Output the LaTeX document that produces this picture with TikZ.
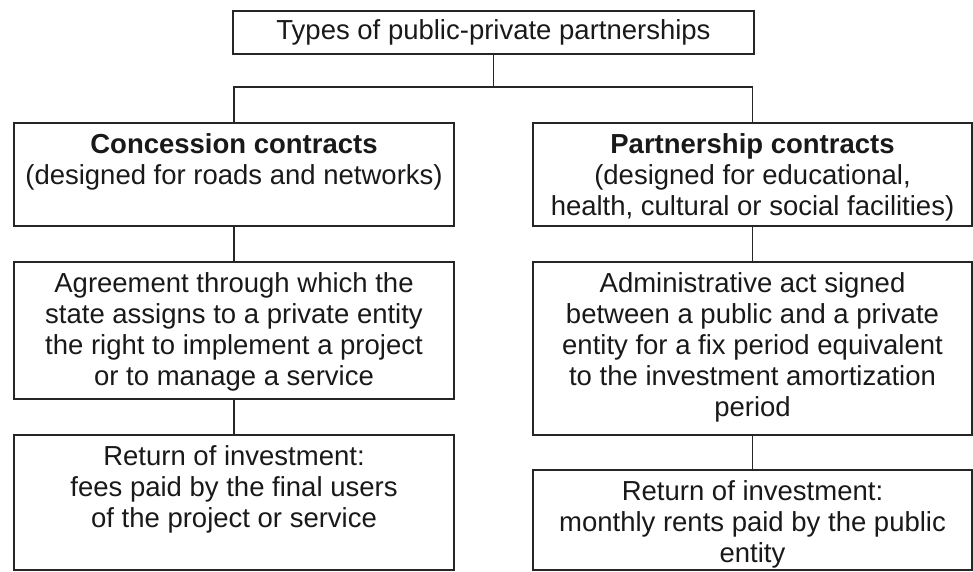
\documentclass[tikz,border=0pt]{standalone}
\usepackage{fontspec}
\setmainfont{Liberation Sans}
\usetikzlibrary{calc,positioning}

\begin{document}
\begin{tikzpicture}
    % 坐标以pt为单位, y轴向下
    [x=1pt, y=-1pt,
    frame_box/.style={draw=black!85, line width=1.8pt, inner sep=0pt, outer sep=0pt},
    box_text/.style={anchor=north, align=center, inner sep=0pt, yshift=-10pt,
        font=\fontsize{27.5}{31}\selectfont, text=black!90},
    link/.style={draw=black!85, line width=1.8pt}]
    \useasboundingbox (0, 0) rectangle (973, 571);
    % 顶层方框
    \node[frame_box, minimum width=521pt, minimum height=43pt,
        font=\fontsize{27.5}{31}\selectfont, text=black!90] (types) at (493.5, 32.5)
        {Types of public-private partnerships};
    % 左列: 特许合同
    \node[frame_box, minimum width=440pt, minimum height=103pt] (conc) at (234, 174.5) {};
    \node[box_text] (conc_txt) at (conc.north)
        {\textbf{Concession contracts}\\(designed for roads and networks)};
    \node[frame_box, minimum width=440pt, minimum height=137pt] (agree) at (234, 330.5) {};
    \node[box_text] (agree_txt) at (agree.north)
        {Agreement through which the\\state assigns to a private entity\\the right to implement a project\\or to manage a service};
    \node[frame_box, minimum width=440pt, minimum height=135pt] (fees) at (234, 502.5) {};
    \node[box_text] (fees_txt) at (fees.north)
        {Return of investment:\\fees paid by the final users\\of the project or service};
    % 右列: 合伙合同
    \node[frame_box, minimum width=439pt, minimum height=103pt] (partner) at (752.5, 174.5) {};
    \node[box_text] (partner_txt) at (partner.north)
        {\textbf{Partnership contracts}\\(designed for educational,\\health, cultural or social facilities)};
    \node[frame_box, minimum width=439pt, minimum height=173pt] (admin) at (752.5, 348.5) {};
    \node[box_text] (admin_txt) at (admin.north)
        {Administrative act signed\\between a public and a private\\entity for a fix period equivalent\\to the investment amortization\\period};
    \node[frame_box, minimum width=439pt, minimum height=100pt] (rents) at (752.5, 520) {};
    \node[box_text] (rents_txt) at (rents.north)
        {Return of investment:\\monthly rents paid by the public\\entity};
    % 连线
    \path (types.south) ++(0, 33) coordinate (split);
    \draw[link] (types.south) -- (split);
    \draw[link] (conc.north) |- (split) -| (partner.north);
    \draw[link] (conc.south) -- (agree.north);
    \draw[link] (agree.south) -- (fees.north);
    \draw[link] (partner.south) -- (admin.north);
    \draw[link] (admin.south) -- (rents.north);
\end{tikzpicture}
\end{document}
